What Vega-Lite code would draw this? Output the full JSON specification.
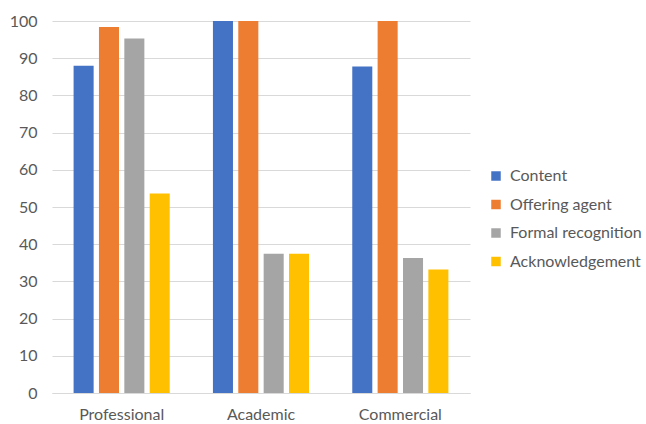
{
  "$schema": "https://vega.github.io/schema/vega-lite/v6.json",
  "width": 418,
  "height": 372,
  "autosize": "none",
  "padding": {"left": 52, "top": 21, "right": 176, "bottom": 31},
  "background": "white",
  "config": {
    "view": {"stroke": null},
    "font": "Lato",
    "axis": {"labelFont": "Lato", "labelColor": "#595959", "labelFontSize": 16, "titleFont": "Lato"},
    "legend": {"labelFont": "Lato", "labelColor": "#595959", "labelFontSize": 16}
  },
  "data": {
    "values": [
      {"sector": "Professional", "type": "Content", "value": 88},
      {"sector": "Professional", "type": "Offering agent", "value": 98.4},
      {"sector": "Professional", "type": "Formal recognition", "value": 95.3},
      {"sector": "Professional", "type": "Acknowledgement", "value": 53.6},
      {"sector": "Academic", "type": "Content", "value": 100},
      {"sector": "Academic", "type": "Offering agent", "value": 100},
      {"sector": "Academic", "type": "Formal recognition", "value": 37.4},
      {"sector": "Academic", "type": "Acknowledgement", "value": 37.4},
      {"sector": "Commercial", "type": "Content", "value": 87.8},
      {"sector": "Commercial", "type": "Offering agent", "value": 100},
      {"sector": "Commercial", "type": "Formal recognition", "value": 36.3},
      {"sector": "Commercial", "type": "Acknowledgement", "value": 33.2}
    ]
  },
  "mark": {"type": "bar"},
  "encoding": {
    "x": {
      "field": "sector", "type": "nominal",
      "sort": ["Professional", "Academic", "Commercial"],
      "scale": {"paddingInner": 0.31, "paddingOuter": 0.155},
      "axis": {"title": null, "labelAngle": 0, "ticks": false, "domain": true, "domainColor": "#d9d9d9", "labelPadding": 13}
    },
    "xOffset": {
      "field": "type", "type": "nominal",
      "sort": ["Content", "Offering agent", "Formal recognition", "Acknowledgement"],
      "scale": {"paddingInner": 0.21, "paddingOuter": 0}
    },
    "y": {
      "field": "value", "type": "quantitative",
      "scale": {"domain": [0, 100], "nice": false},
      "axis": {"title": null, "values": [0,10,20,30,40,50,60,70,80,90,100], "ticks": false, "domain": false, "gridColor": "#d9d9d9", "labelPadding": 15}
    },
    "color": {
      "field": "type", "type": "nominal",
      "sort": ["Content", "Offering agent", "Formal recognition", "Acknowledgement"],
      "scale": {"domain": ["Content", "Offering agent", "Formal recognition", "Acknowledgement"], "range": ["#4472c4", "#ed7d31", "#a5a5a5", "#ffc000"]},
      "legend": {"title": null, "orient": "none", "legendX": 436, "legendY": 147, "symbolType": "square", "symbolSize": 90, "symbolStrokeWidth": 0, "rowPadding": 12.5, "labelOffset": 6}
    }
  }
}
